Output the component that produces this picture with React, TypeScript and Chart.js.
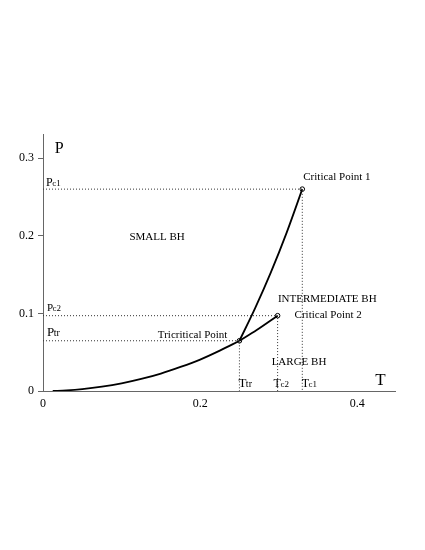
import React, { useEffect, useRef } from "react";
import { Chart, registerables } from "chart.js";

Chart.register(...registerables);

// Coexistence line small/large BH (T, P)
const lowerT = [0.0124, 0.03, 0.05, 0.075, 0.1, 0.125, 0.15, 0.175, 0.2, 0.225, 0.25];
const lowerP = [0, 0.0008, 0.0024, 0.0055, 0.0098, 0.0155, 0.0225, 0.031, 0.0405, 0.052, 0.0647];
// Small/intermediate coexistence line up to Critical Point 1
const upperT = [0.25, 0.27, 0.29, 0.31, 0.33];
const upperP = [0.0647, 0.1067, 0.1527, 0.2037, 0.26];
// Intermediate/large coexistence line up to Critical Point 2
const rightT = [0.25, 0.272, 0.2986];
const rightP = [0.0647, 0.0785, 0.097];
// Special points: Critical Point 1, Critical Point 2, Tricritical Point
const pointNames = ["c1", "c2", "tr"];
const pointT = [0.33, 0.2986, 0.25];
const pointP = [0.26, 0.097, 0.0647];
// Axis ticks
const xTicks = [0, 0.2, 0.4];
const yTicks = [0, 0.1, 0.2, 0.3];

const SERIF = '"Liberation Serif", "DejaVu Serif", serif';

const toXY = (xs: number[], ys: number[]) => xs.map((x, i) => ({ x, y: ys[i] }));

const labelsPlugin = {
  id: "labels",
  afterDraw(chart: any) {
    const ctx = chart.ctx;
    const xs = chart.scales.x;
    const ys = chart.scales.y;
    const px = (v: number) => xs.getPixelForValue(v);
    const py = (v: number) => ys.getPixelForValue(v);
    ctx.save();
    ctx.fillStyle = "#000";
    ctx.textBaseline = "alphabetic";
    const text = (s: string, x: number, y: number, size: number, align: CanvasTextAlign = "left") => {
      ctx.font = `${size}px ${SERIF}`;
      ctx.textAlign = align;
      ctx.fillText(s, x, y);
    };
    const sub = (main: string, subs: string, x: number, y: number, size: number, subSize: number) => {
      ctx.font = `${size}px ${SERIF}`;
      ctx.textAlign = "left";
      ctx.fillText(main, x, y);
      const w = ctx.measureText(main).width;
      ctx.font = `${subSize}px ${SERIF}`;
      ctx.fillText(subs, x + w - 0.5, y);
    };
    const left = xs.left;
    const bottom = ys.bottom;

    // axis letters
    text("P", px(0.015), py(0.307), 16);
    text("T", px(0.423), py(0.008), 17);

    // P labels on the left
    sub("P", "c1", left + 3, py(pointP[0]) - 3, 12, 9);
    sub("P", "c2", left + 4, py(pointP[1]) - 5, 11, 9);
    sub("P", "tr", left + 4, py(pointP[2]) - 5, 13, 10);

    // T labels near the bottom
    sub("T", "tr", px(pointT[2]) - 1, bottom - 4, 13, 10);
    sub("T", "c2", px(pointT[1]) - 4, bottom - 4, 12, 9);
    sub("T", "c1", px(pointT[0]) - 0.5, bottom - 4, 12, 9);

    // region and point labels
    text("SMALL BH", px(0.11), py(0.194), 11);
    text("INTERMEDIATE BH", px(0.299), py(0.1145), 11);
    text("LARGE BH", px(0.291), py(0.0335), 11);
    text("Critical Point 1", px(pointT[0]) + 1, py(pointP[0]) - 9, 11);
    text("Critical Point 2", px(pointT[1]) + 17, py(pointP[1]) + 2.5, 11);
    text("Tricritical Point", px(pointT[2]) - 12, py(pointP[2]) - 3, 11, "right");
    ctx.restore();
  },
};

export default function App() {
  const ref = useRef<HTMLCanvasElement | null>(null);
  useEffect(() => {
    if (!ref.current) return;
    const guides = pointT.map((t, i) => ({
      type: "line" as const,
      label: "guide " + pointNames[i],
      data: [
        { x: 0, y: pointP[i] },
        { x: t, y: pointP[i] },
        { x: t, y: 0 },
      ],
      borderColor: "#333",
      borderWidth: 1,
      borderDash: [1, 2],
      pointRadius: 0,
      tension: 0,
    }));
    const curve = (label: string, xs: number[], ys: number[]) => ({
      type: "line" as const,
      label,
      data: toXY(xs, ys),
      borderColor: "#000",
      borderWidth: 1.8,
      pointRadius: 0,
      cubicInterpolationMode: "monotone" as const,
    });
    const chart = new Chart(ref.current, {
      type: "line",
      data: {
        datasets: [
          ...guides,
          curve("small-large", lowerT, lowerP),
          curve("small-intermediate", upperT, upperP),
          curve("intermediate-large", rightT, rightP),
          {
            type: "scatter",
            label: "points",
            data: toXY(pointT, pointP),
            pointRadius: 2.3,
            pointBorderWidth: 1,
            pointBorderColor: "#000",
            pointBackgroundColor: "#fff",
            showLine: false,
          } as any,
        ],
      },
      options: {
        responsive: false,
        animation: false,
        layout: { padding: { left: 0, top: 134, right: 30, bottom: 139 } },
        plugins: { legend: { display: false }, tooltip: { enabled: false } },
        scales: {
          x: {
            type: "linear",
            min: 0,
            max: 0.448,
            afterBuildTicks: (s: any) => {
              s.ticks = xTicks.map((v) => ({ value: v }));
            },
            afterFit: (s: any) => {
              s.height = 20;
            },
            border: { display: true, color: "#666", width: 1 },
            grid: { display: false, drawTicks: false },
            ticks: {
              color: "#000",
              font: { family: SERIF, size: 12 },
              padding: 6,
              maxRotation: 0,
              callback: (v: any) => String(Number(v)),
            },
          },
          y: {
            type: "linear",
            min: 0,
            max: 0.331,
            afterBuildTicks: (s: any) => {
              s.ticks = yTicks.map((v) => ({ value: v }));
            },
            afterFit: (s: any) => {
              s.width = 43;
            },
            border: { display: true, color: "#666", width: 1 },
            grid: { display: true, drawOnChartArea: false, drawTicks: true, tickLength: 5, color: "#666" },
            ticks: {
              color: "#000",
              font: { family: SERIF, size: 12 },
              padding: 4,
              callback: (v: any) => String(Number(v)),
            },
          },
        },
      },
      plugins: [labelsPlugin],
    });
    return () => chart.destroy();
  }, []);
  return (
    <div style={{ position: "fixed", left: 0, top: 0, width: 425, height: 550, background: "#fff" }}>
      <canvas ref={ref} width={425} height={550} />
    </div>
  );
}
